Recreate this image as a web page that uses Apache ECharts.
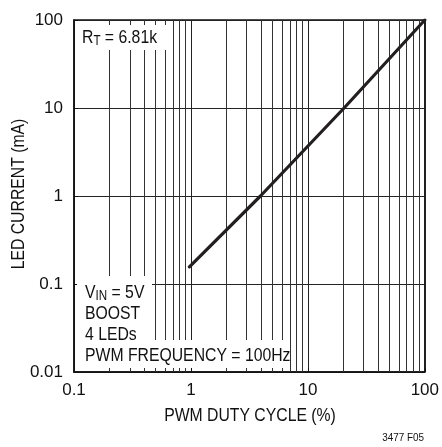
<!DOCTYPE html>
<html><head><meta charset="utf-8">
<script src="https://cdn.jsdelivr.net/npm/echarts@6/dist/echarts.min.js"></script>
<style>html,body{margin:0;padding:0;background:#fff}#c{width:442px;height:447px}</style>
</head><body><div id="c"></div>
<script>
// PWM duty cycle (%) vs LED current (mA)
const dutyCycle = [0.97, 3.93, 20.4, 100];
const ledCurrent = [0.157, 1.0, 10, 100];
// minor vertical grid lines (log decades 2..9)
const minorX = [0.2,0.3,0.4,0.5,0.6,0.7,0.8,0.9, 2,3,4,5,6,7,8,9, 20,30,40,50,60,70,80,90];
const xTicks = ['0.1','1','10','100'];
const yTicks = ['0.01','0.1','1','10','100'];

const FONT = "'Liberation Sans',Arial,sans-serif";
const SX = 0.83; // condensed look
const chart = echarts.init(document.getElementById('c'), null, {renderer:'canvas'});
const fmt = v => String(+(+v).toPrecision(3));
const rich = {a:{fontSize:19, lineHeight:21, fontFamily:FONT, fill:'#111'},
              s:{fontSize:14, lineHeight:8, verticalAlign:'bottom', fontFamily:FONT, fill:'#111'}};
chart.setOption({
  animation:false,
  backgroundColor:'#fff',
  grid:{left:74, top:20, right:16, bottom:75, show:true, borderColor:'#111', borderWidth:1.5, backgroundColor:'transparent', containLabel:false},
  xAxis:{
    type:'log', logBase:10, min:0.1, max:100,
    axisLine:{show:true, onZero:false, lineStyle:{color:'#111', width:1.5}},
    axisTick:{show:true, inside:true, length:4, lineStyle:{color:'#111'}},
    splitLine:{show:true, lineStyle:{color:'#222', width:1}},
    axisLabel:{fontSize:17, color:'#111', margin:10, fontFamily:FONT, formatter: v => xTicks.includes(fmt(v)) ? fmt(v) : ''}
  },
  yAxis:{
    type:'log', logBase:10, min:0.01, max:100,
    axisLine:{show:true, onZero:false, lineStyle:{color:'#111', width:1.5}},
    axisTick:{show:true, inside:true, length:4, lineStyle:{color:'#111'}},
    splitLine:{show:true, lineStyle:{color:'#222', width:1}},
    axisLabel:{fontSize:17, color:'#111', margin:11, fontFamily:FONT, formatter: v => yTicks.includes(fmt(v)) ? fmt(v) : ''}
  },
  series:[
    {type:'line', data:[], z:1, silent:true,
     markLine:{silent:true, symbol:['none','none'], label:{show:false},
       lineStyle:{color:'#333', width:1, type:'solid'},
       data: minorX.map(v => ({xAxis:v}))}},
    {type:'line', z:5, showSymbol:false, symbol:'none',
     data: dutyCycle.map((x,i)=>[x, ledCurrent[i]]),
     lineStyle:{color:'#231f20', width:3.2, cap:'round', join:'round'}}
  ],
  graphic:[
    {type:'rect', z:100, shape:{x:76, y:25, width:94, height:25}, style:{fill:'#fff'}},
    {type:'rect', z:100, shape:{x:77, y:276, width:75, height:92}, style:{fill:'#fff'}},
    {type:'rect', z:100, shape:{x:77, y:340, width:212, height:28}, style:{fill:'#fff'}},
    {type:'text', z:101, x:82, y:27, scaleX:SX, style:{text:'{a|R}{s|T}{a| = 6.81k}', rich:rich}},
    {type:'text', z:101, x:85, y:282, scaleX:SX, style:{
      text:'{a|V}{s|IN}{a| = 5V}\n{a|BOOST}\n{a|4 LEDs}\n{a|PWM FREQUENCY = 100Hz}', rich:rich}},
    {type:'text', z:101, x:250, y:416, scaleX:SX, style:{text:'PWM DUTY CYCLE (%)', fontSize:19, fontFamily:FONT, fill:'#111', textAlign:'center', textVerticalAlign:'middle'}},
    {type:'text', z:101, x:19, y:194, rotation:Math.PI/2, scaleX:SX, style:{text:'LED CURRENT (mA)', fontSize:19, fontFamily:FONT, fill:'#111', textAlign:'center', textVerticalAlign:'middle'}},
    {type:'text', z:101, x:424, y:438, scaleX:0.9, style:{text:'3477 F05', fontSize:11, fontFamily:FONT, fill:'#111', textAlign:'right', textVerticalAlign:'middle'}}
  ]
});
</script></body></html>
